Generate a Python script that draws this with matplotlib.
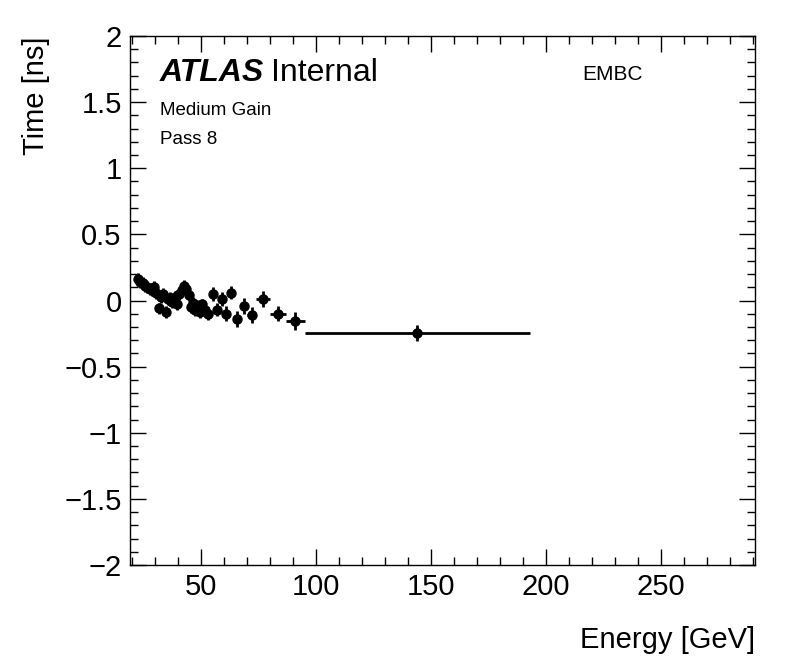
import matplotlib
matplotlib.use("Agg")
import matplotlib.pyplot as plt
from matplotlib.ticker import MultipleLocator

plt.rcParams["font.family"] = ["Liberation Sans", "DejaVu Sans"]

# bin centres, half widths, time values and errors
energy = [22.5, 23.5, 24.5, 25.5, 26.5, 27.5, 28.5, 29.5, 30.5, 31.5,
          32.5, 33.5, 34.5, 35.5, 36.5, 37.5, 38.5, 39.5, 40.5, 41.5,
          42.5, 43.5, 44.5, 45.5, 46.5, 47.5, 48.5, 49.5, 50.5, 51.5,
          53.0, 55.0, 57.0, 59.0, 61.0, 63.0, 65.5, 68.5, 72.0, 77.0,
          83.5, 91.0, 144.0]
energy_err = [0.5] * 30 + [1.0, 1.0, 1.0, 1.0, 1.0, 1.0, 1.5, 1.5, 2.0, 3.0,
                           3.5, 4.0, 49.0]
time = [0.16, 0.14, 0.13, 0.11, 0.10, 0.09, 0.08, 0.10, 0.06, -0.06,
        0.03, 0.05, -0.09, 0.01, 0.02, -0.01, 0.03, -0.03, 0.05, 0.08,
        0.11, 0.09, 0.04, -0.05, -0.02, -0.07, -0.04, -0.09, -0.03, -0.07,
        -0.10, 0.05, -0.07, 0.01, -0.10, 0.06, -0.14, -0.04, -0.11, 0.01,
        -0.10, -0.155, -0.245]
time_err = [0.045] * 30 + [0.05, 0.05, 0.05, 0.055, 0.055, 0.05, 0.06, 0.06,
                           0.06, 0.06, 0.055, 0.065, 0.06]

fig = plt.figure(figsize=(7.96, 6.72), dpi=100)
ax = fig.add_axes([0.1633, 0.1592, 0.7852, 0.7872])

ax.errorbar(energy, time, xerr=energy_err, yerr=time_err, fmt="o",
            color="black", markersize=6.5, elinewidth=2, capsize=0)

ax.set_xlim(19, 291)
ax.set_ylim(-2, 2)

ax.xaxis.set_major_locator(MultipleLocator(50))
ax.xaxis.set_minor_locator(MultipleLocator(10))
ax.yaxis.set_major_locator(MultipleLocator(0.5))
ax.yaxis.set_minor_locator(MultipleLocator(0.1))
ax.yaxis.set_major_formatter(matplotlib.ticker.FuncFormatter(
    lambda v, p: ("%g" % v).replace("-", "\u2212")))
ax.tick_params(which="both", direction="in", top=True, right=True,
               labelsize=21, width=1, pad=6)
ax.tick_params(which="major", length=11.5)
ax.tick_params(which="minor", length=5.8)
for s in ax.spines.values():
    s.set_linewidth(1)

ax.set_xlabel("Energy [GeV]", fontsize=21, loc="right", labelpad=18)
ax.set_ylabel("Time [ns]", fontsize=21, loc="top", labelpad=10)

atlas = ax.text(0.048, 0.93, "ATLAS", transform=ax.transAxes, fontsize=23,
                fontweight="bold", fontstyle="italic", va="center")
ax.annotate("Internal", xycoords=atlas, xy=(1, 0.5), xytext=(5, 0),
            textcoords="offset points", fontsize=23, va="center")
ax.text(0.048, 0.86, "Medium Gain", transform=ax.transAxes, fontsize=13.5,
        va="center")
ax.text(0.048, 0.805, "Pass 8", transform=ax.transAxes, fontsize=13.5,
        va="center")
ax.text(0.723, 0.928, "EMBC", transform=ax.transAxes, fontsize=15,
        va="center")

fig.savefig("out.png", dpi=100)
